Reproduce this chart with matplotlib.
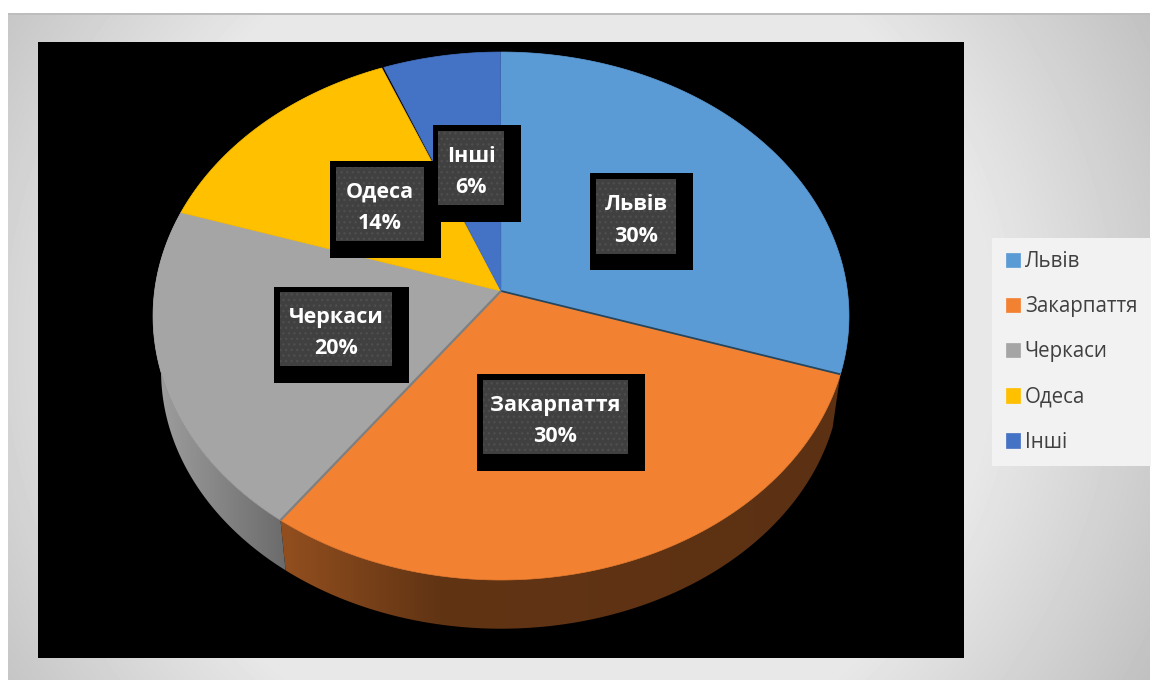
import numpy as np
import matplotlib
matplotlib.use("Agg")
import matplotlib.pyplot as plt
from matplotlib.colors import to_rgb
from matplotlib.patches import Polygon, Rectangle

plt.rcParams['font.family'] = ['Open Sans', 'DejaVu Sans']
plt.rcParams['hatch.linewidth'] = 1.0

categories = ['Львів', 'Закарпаття', 'Черкаси', 'Одеса', 'Інші']
shares = [30, 30, 20, 14, 6]
colors = ['#5b9bd5', '#f28232', '#a5a5a5', '#ffc000', '#4472c4']

W, H = 1151, 680

# pie projection (pixels), a tilted disc in perspective
cx, cy = 501, 291
rx, ry = 346.4, 261.6
persp = 0.0947
# lower rim = upper rim scaled towards a vanishing point
vp_y = 2700
rim_scale = 0.977

# brightness of the rim across x, only these two slices show a rim
rim_shade = {
    1: ([287, 440, 840], [0.60, 0.40, 0.38]),
    2: ([160, 285], [0.95, 0.65]),
}


def project(deg):
    t = np.radians(deg)
    w = 1 + persp * np.cos(t)
    return cx + rx * np.sin(t) / w, cy - ry * np.cos(t) / w


def lower(x, y):
    return cx + rim_scale * (x - cx), vp_y + rim_scale * (y - vp_y)


fig = plt.figure(figsize=(W / 100, H / 100), dpi=100)
ax = fig.add_axes([0, 0, 1, 1])
ax.axis('off')

# slide background
yy, xx = np.mgrid[13:H, 8:1150]
dist = np.hypot(xx - 560, yy - 340)
bg = np.clip(226 - 0.16 * (dist - 469), 0, 232)
ax.imshow(bg, cmap='gray', vmin=0, vmax=255, extent=(8, 1150, H, 13), aspect='auto', zorder=0)
ax.add_patch(Rectangle((8, 13), 1142, 2, facecolor='#bdbdbd', edgecolor='none', zorder=1))

# black chart area
ax.add_patch(Rectangle((38, 42), 926, 616, facecolor='black', edgecolor='none', zorder=1))

angles = np.cumsum([0] + shares) * 3.6

# rim first, the top of the disc covers the hidden part
for i, (xs, vals) in rim_shade.items():
    th = np.arange(angles[i], angles[i + 1] + 0.01, 0.5)
    ux, uy = project(th)
    lx, ly = lower(ux, uy)
    outline = np.c_[np.r_[ux, lx[::-1]], np.r_[uy, ly[::-1]]]
    left, right = outline[:, 0].min(), outline[:, 0].max()
    grad_x = np.linspace(left, right, 400)
    grad = np.interp(grad_x, xs, vals)[None, :, None] * np.array(to_rgb(colors[i]))
    clip = Polygon(outline, closed=True, transform=ax.transData, facecolor='none', edgecolor='none')
    ax.add_patch(clip)
    im = ax.imshow(grad, extent=(left, right, outline[:, 1].max(), outline[:, 1].min()),
                   aspect='auto', interpolation='bilinear', zorder=2)
    im.set_clip_path(clip)

# top of the disc
for i, c in enumerate(colors):
    th = np.arange(angles[i], angles[i + 1] + 0.01, 0.5)
    px, py = project(th)
    ax.fill(np.r_[cx, px], np.r_[cy, py], color=c, lw=0.5, zorder=3, label=categories[i])

# seams between slices
x1, y1 = project(angles[1])
ax.plot([cx, x1], [cy, y1], color='#24465f', lw=1.3, zorder=4, solid_capstyle='butt')
x2, y2 = project(angles[2])
ax.plot([cx, x2], [cy, y2], color='#7f7f7f', lw=1.6, zorder=4, solid_capstyle='butt')

# data labels: shadow box, patterned box, text
shadow_boxes = [(590, 173, 103, 97), (477, 374, 168, 97), (274, 287, 135, 96),
                (330, 161, 111, 97), (433, 125, 88, 97)]
inner_boxes = [(596, 179, 80, 75), (483, 380, 145, 74), (280, 292, 112, 74),
               (336, 167, 88, 74), (438, 131, 66, 74)]
for i in range(len(categories)):
    sx, sy, sw, sh = shadow_boxes[i]
    ax.add_patch(Rectangle((sx, sy), sw, sh, facecolor='black', edgecolor='none', zorder=5 + i))
    bx, by, bw, bh = inner_boxes[i]
    ax.add_patch(Rectangle((bx, by), bw, bh, facecolor='#404040', edgecolor='#4e4e4e',
                           hatch='...', lw=0, zorder=5 + i))
    ax.text(bx + bw / 2, by + bh / 2 + 4, f'{categories[i]}\n{shares[i]}%', color='white', fontsize=15.5,
            fontweight='bold', ha='center', va='center', linespacing=1.65, zorder=5 + i)

handles, labels = ax.get_legend_handles_labels()
leg = ax.legend(handles, labels, loc='upper left', bbox_to_anchor=(992.5, 238),
                bbox_transform=ax.transData, borderaxespad=0, fancybox=False, framealpha=1,
                facecolor='#f2f2f2', edgecolor='none', prop={'size': 14.8}, labelcolor='#404040',
                handlelength=0.7, handleheight=0.7, handletextpad=0.22, labelspacing=1.17,
                borderpad=0.65)
leg.set_zorder(20)

ax.set_xlim(0, W)
ax.set_ylim(H, 0)

plt.savefig('out.png', dpi=100, facecolor='white')
